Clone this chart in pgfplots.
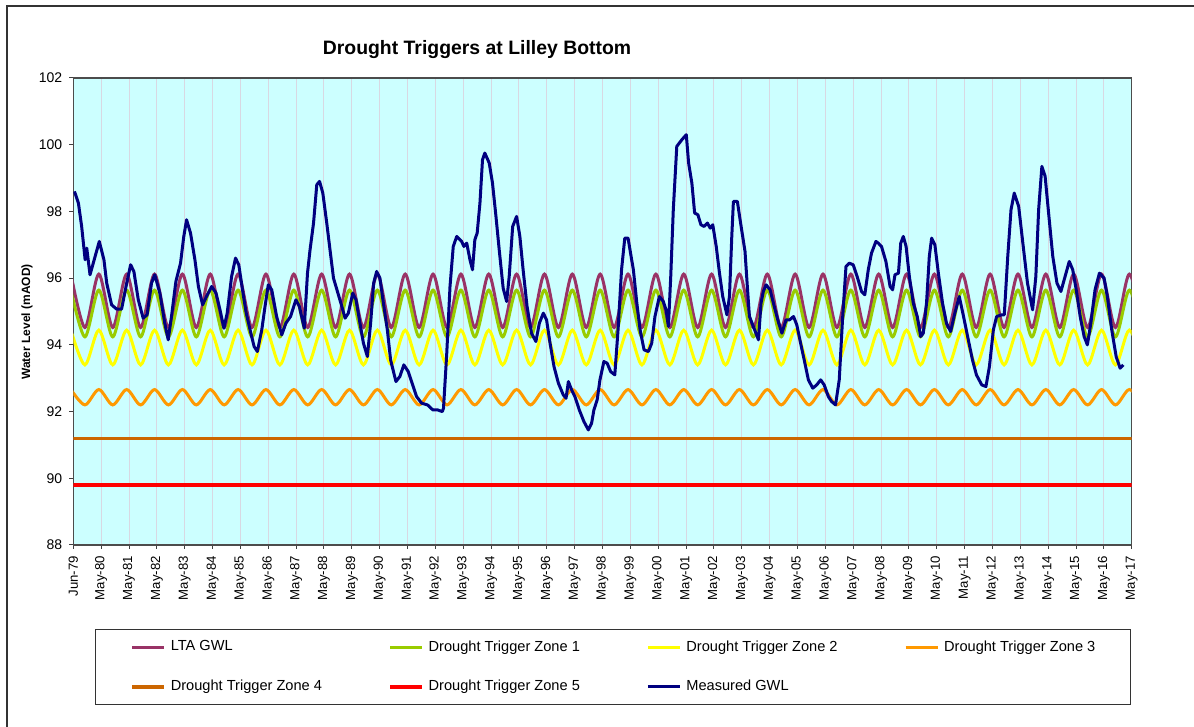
\documentclass[border=0pt]{standalone}
\usepackage{fontspec}
\setmainfont{Liberation Sans}
\usepackage{pgfplots}
\usepackage{pgfplotstable}
\pgfplotsset{compat=1.18}
\definecolor{bgc}{HTML}{CCFFFF}
\definecolor{gridc}{HTML}{D8D8E2}
\definecolor{lta}{HTML}{993366}
\definecolor{zoneA}{HTML}{99CC00}
\definecolor{zoneB}{HTML}{FFFF00}
\definecolor{zoneC}{HTML}{FF9900}
\definecolor{zoneD}{HTML}{CC6600}
\definecolor{zoneE}{HTML}{FF0000}
\definecolor{meas}{HTML}{000080}

\pgfplotstableread{
m lta z1 z2 z3
-1 96.12 95.64 94.44 92.66
5 94.52 94.24 93.40 92.20
11 96.12 95.64 94.44 92.66
17 94.52 94.24 93.40 92.20
23 96.12 95.64 94.44 92.66
29 94.52 94.24 93.40 92.20
35 96.12 95.64 94.44 92.66
41 94.52 94.24 93.40 92.20
47 96.12 95.64 94.44 92.66
53 94.52 94.24 93.40 92.20
59 96.12 95.64 94.44 92.66
65 94.52 94.24 93.40 92.20
71 96.12 95.64 94.44 92.66
77 94.52 94.24 93.40 92.20
83 96.12 95.64 94.44 92.66
89 94.52 94.24 93.40 92.20
95 96.12 95.64 94.44 92.66
101 94.52 94.24 93.40 92.20
107 96.12 95.64 94.44 92.66
113 94.52 94.24 93.40 92.20
119 96.12 95.64 94.44 92.66
125 94.52 94.24 93.40 92.20
131 96.12 95.64 94.44 92.66
137 94.52 94.24 93.40 92.20
143 96.12 95.64 94.44 92.66
149 94.52 94.24 93.40 92.20
155 96.12 95.64 94.44 92.66
161 94.52 94.24 93.40 92.20
167 96.12 95.64 94.44 92.66
173 94.52 94.24 93.40 92.20
179 96.12 95.64 94.44 92.66
185 94.52 94.24 93.40 92.20
191 96.12 95.64 94.44 92.66
197 94.52 94.24 93.40 92.20
203 96.12 95.64 94.44 92.66
209 94.52 94.24 93.40 92.20
215 96.12 95.64 94.44 92.66
221 94.52 94.24 93.40 92.20
227 96.12 95.64 94.44 92.66
233 94.52 94.24 93.40 92.20
239 96.12 95.64 94.44 92.66
245 94.52 94.24 93.40 92.20
251 96.12 95.64 94.44 92.66
257 94.52 94.24 93.40 92.20
263 96.12 95.64 94.44 92.66
269 94.52 94.24 93.40 92.20
275 96.12 95.64 94.44 92.66
281 94.52 94.24 93.40 92.20
287 96.12 95.64 94.44 92.66
293 94.52 94.24 93.40 92.20
299 96.12 95.64 94.44 92.66
305 94.52 94.24 93.40 92.20
311 96.12 95.64 94.44 92.66
317 94.52 94.24 93.40 92.20
323 96.12 95.64 94.44 92.66
329 94.52 94.24 93.40 92.20
335 96.12 95.64 94.44 92.66
341 94.52 94.24 93.40 92.20
347 96.12 95.64 94.44 92.66
353 94.52 94.24 93.40 92.20
359 96.12 95.64 94.44 92.66
365 94.52 94.24 93.40 92.20
371 96.12 95.64 94.44 92.66
377 94.52 94.24 93.40 92.20
383 96.12 95.64 94.44 92.66
389 94.52 94.24 93.40 92.20
395 96.12 95.64 94.44 92.66
401 94.52 94.24 93.40 92.20
407 96.12 95.64 94.44 92.66
413 94.52 94.24 93.40 92.20
419 96.12 95.64 94.44 92.66
425 94.52 94.24 93.40 92.20
431 96.12 95.64 94.44 92.66
437 94.52 94.24 93.40 92.20
443 96.12 95.64 94.44 92.66
449 94.52 94.24 93.40 92.20
455 96.12 95.64 94.44 92.66
461 94.52 94.24 93.40 92.20
}\seasonal

\pgfplotstableread{
m v
0.5 98.6
2.2 98.25
3.6 97.55
5.1 96.55
5.8 96.9
7.2 96.1
8.6 96.45
11.2 97.1
13.2 96.55
14.4 95.85
16.5 95.2
18.7 95.07
20.8 95.07
23.0 95.85
24.7 96.4
26.1 96.2
28.0 95.35
30.1 94.8
31.8 94.9
33.7 95.85
35.1 96.1
37.3 95.55
39.4 94.65
40.9 94.15
42.3 94.85
44.2 95.9
46.2 96.45
47.6 97.25
48.8 97.75
50.5 97.35
52.4 96.55
53.9 95.75
55.7 95.2
57.4 95.45
59.6 95.75
61.5 95.55
63.2 95.05
64.9 94.5
66.3 94.95
68.2 96.05
69.9 96.6
71.3 96.4
72.9 95.65
74.5 94.95
76.5 94.35
77.9 93.95
79.3 93.8
81.2 94.45
82.6 95.15
84.0 95.8
85.5 95.65
87.6 94.85
89.8 94.3
91.6 94.65
93.6 94.85
95.9 95.35
97.4 95.15
99.5 94.5
100.9 96.15
102.0 96.85
103.5 97.65
104.9 98.8
106.1 98.9
107.5 98.55
109.2 97.65
110.6 96.85
112.1 96.0
113.8 95.6
115.7 95.15
117.1 94.8
118.5 94.95
120.4 95.55
121.8 95.35
123.5 94.65
125.0 94.05
126.7 93.65
128.1 94.65
129.4 95.85
130.7 96.2
132.1 96.0
133.6 95.25
135.3 94.45
136.7 93.55
139.0 92.9
140.7 93.05
142.4 93.4
144.3 93.2
146.2 92.8
147.9 92.45
150.1 92.25
152.6 92.2
154.9 92.05
156.9 92.05
159.0 92.0
159.5 92.1
160.9 93.75
162.3 95.75
163.7 96.95
165.2 97.25
167.3 97.1
168.3 96.95
169.5 97.05
170.9 96.55
172.0 96.25
173.0 97.15
174.0 97.35
175.2 98.25
176.3 99.55
177.3 99.75
179.2 99.45
180.6 98.85
182.1 97.85
183.5 96.85
185.2 95.7
186.7 95.3
187.8 96.05
189.3 97.55
191.0 97.85
192.4 97.25
193.8 96.25
195.5 95.15
197.4 94.35
199.3 94.1
200.8 94.65
202.5 94.95
203.9 94.75
205.4 94.05
207.1 93.35
209.0 92.85
211.1 92.5
212.3 92.4
213.3 92.9
214.7 92.65
216.1 92.45
218.0 92.05
220.0 91.7
221.9 91.45
223.3 91.65
224.3 92.05
225.7 92.35
226.9 92.95
228.6 93.5
230.0 93.45
231.5 93.2
233.3 93.1
234.7 94.45
236.2 96.25
237.6 97.2
239.0 97.2
241.3 96.25
242.8 95.25
244.2 94.45
245.9 93.85
247.8 93.8
249.2 94.05
250.6 94.85
252.5 95.45
254.2 95.3
255.4 95.05
256.4 94.55
257.4 96.05
258.5 98.05
260.0 99.95
262.2 100.15
264.1 100.3
265.1 99.45
266.5 98.85
267.7 97.95
269.1 97.9
270.4 97.6
271.8 97.55
273.2 97.65
274.4 97.5
275.5 97.6
277.0 96.95
278.4 96.15
279.8 95.45
281.6 94.9
282.7 95.45
283.7 97.25
284.4 98.3
286.1 98.3
287.5 97.65
289.4 96.8
290.4 95.75
291.3 94.85
293.0 94.55
295.2 94.15
296.3 95.25
297.3 95.6
298.5 95.8
300.2 95.65
302.0 95.15
303.9 94.65
305.3 94.35
307.1 94.75
308.6 94.75
310.3 94.85
311.7 94.6
313.2 94.1
314.9 93.55
316.7 92.95
318.6 92.7
320.3 92.8
322.0 92.95
323.5 92.8
325.3 92.45
326.7 92.3
328.4 92.2
330.0 92.95
331.4 94.75
332.9 96.35
334.3 96.45
336.0 96.4
337.7 96.05
339.6 95.6
341.0 95.5
342.5 96.25
343.9 96.75
345.8 97.1
346.8 97.05
348.2 96.95
350.1 96.5
351.9 95.75
353.0 95.65
354.0 96.1
355.5 96.15
356.5 97.05
357.6 97.25
358.8 96.95
360.2 96.05
361.9 95.25
363.6 94.85
365.1 94.25
366.2 94.35
367.6 95.25
368.8 96.65
369.8 97.2
371.2 97.0
372.7 96.15
374.5 95.25
376.2 94.65
378.0 94.4
379.8 94.95
381.7 95.45
383.4 94.9
385.6 94.15
387.4 93.55
389.1 93.1
391.4 92.8
393.2 92.75
394.7 93.35
396.4 94.45
397.8 94.85
400.0 94.9
401.1 94.9
402.6 96.65
404.0 98.05
405.4 98.55
407.3 98.15
409.1 97.05
411.1 95.85
413.3 95.05
414.7 96.05
415.9 98.05
417.3 99.35
418.7 99.05
420.2 97.95
422.0 96.65
423.8 95.85
425.5 95.6
427.3 96.05
429.1 96.5
430.6 96.25
432.1 95.65
433.8 94.85
435.5 94.25
436.9 94.0
438.4 94.65
440.2 95.65
442.1 96.15
444.1 96.0
445.5 95.45
447.4 94.45
449.3 93.65
451.0 93.3
452.4 93.4
}\measured

\begin{document}
\begin{tikzpicture}
\path[use as bounding box] (0pt,0pt) rectangle (597pt,363.5pt);
\draw[black!80, line width=0.6pt] (3.5pt,0pt) -- (3.5pt,360.5pt) -- (597pt,360.5pt);
\node[font=\bfseries\fontsize{9.7}{11}\selectfont] at (238.5pt,338.5pt) {Drought Triggers at Lilley Bottom};
\node[rotate=90, font=\bfseries\fontsize{6}{7}\selectfont] at (13.5pt,202.5pt) {Water Level (mAOD)};
\begin{axis}[
  at={(36.65pt,91pt)}, anchor=south west, scale only axis,
  width=529.2pt, height=233.5pt,
  xmin=0, xmax=456, ymin=88, ymax=102,
  xtick={0,12,...,456},
  xticklabels={Jun-79,May-80,May-81,May-82,May-83,May-84,May-85,May-86,May-87,May-88,May-89,May-90,May-91,May-92,May-93,May-94,May-95,May-96,May-97,May-98,May-99,May-00,May-01,May-02,May-03,May-04,May-05,May-06,May-07,May-08,May-09,May-10,May-11,May-12,May-13,May-14,May-15,May-16,May-17},
  ytick={88,90,...,102},
  /pgf/number format/assume math mode=true,
  xticklabel style={rotate=90, anchor=east, font=\fontsize{6.6}{7}\selectfont},
  yticklabel style={font=\fontsize{7}{8}\selectfont},
  tick align=outside, tick pos=left, major tick length=2pt,
  tick style={black!75, line width=0.5pt},
  axis line style={black!70, line width=0.6pt},
  xmajorgrids, grid style={gridc, line width=0.5pt},
  axis background/.style={fill=bgc},
  legend columns=4,
  legend cell align=left,
  legend image code/.code={\draw[#1] (0pt,0pt) -- (16pt,0pt);},
  legend style={at={(0.0205,-0.1799)}, anchor=north west, draw=black!80, line width=0.6pt, fill=white,
    font=\fontsize{7.3}{8.5}\selectfont, inner xsep=17.5pt, inner ysep=5.5pt, row sep=13pt,
    nodes={inner sep=0pt},
    /tikz/every odd column/.append style={column sep=2.5pt},
    /tikz/every even column/.append style={column sep=33.25pt}},
]
\addplot[lta, line width=1.5pt, smooth] table[x=m, y=lta] {\seasonal};
\addplot[zoneA, line width=1.5pt, smooth] table[x=m, y=z1] {\seasonal};
\addplot[zoneB, line width=1.5pt, smooth] table[x=m, y=z2] {\seasonal};
\addplot[zoneC, line width=1.5pt, smooth] table[x=m, y=z3] {\seasonal};
\addplot[zoneD, line width=1.6pt] coordinates {(0,91.2) (456,91.2)};
\addplot[zoneE, line width=1.6pt] coordinates {(0,89.8) (456,89.8)};
\addplot[meas, line width=1.5pt, line join=round] table[x=m, y=v] {\measured};
\legend{LTA GWL, Drought Trigger Zone 1, Drought Trigger Zone 2, Drought Trigger Zone 3, Drought Trigger Zone 4, Drought Trigger Zone 5, Measured GWL}
\end{axis}
\end{tikzpicture}
\end{document}
